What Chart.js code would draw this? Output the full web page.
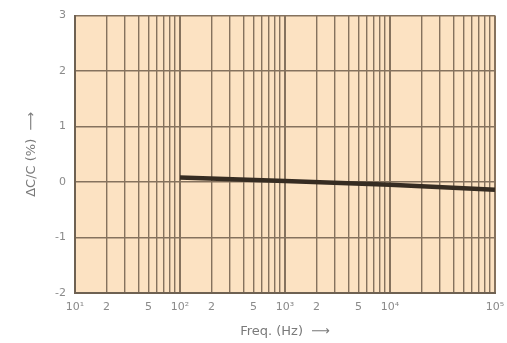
<!DOCTYPE html>
<html>
<head>
<meta charset="utf-8">
<script src="https://cdn.jsdelivr.net/npm/chart.js@4/dist/chart.umd.min.js"></script>
<style>
  html, body { margin: 0; padding: 0; background: #fff; }
  #wrap { width: 507px; height: 343px; }
</style>
</head>
<body>
<div id="wrap"><canvas id="chart"></canvas></div>
<script>
// measured curve
const freqs = [100, 1000, 10000, 100000];
const dcc = [0.08, 0.02, -0.05, -0.14];

// x grid: every 1..9 multiple from 10 to 1e5
const gridFreqs = [10, 20, 30, 40, 50, 60, 70, 80, 90,
  100, 200, 300, 400, 500, 600, 700, 800, 900,
  1000, 2000, 3000, 4000, 5000, 6000, 7000, 8000, 9000,
  10000, 20000, 30000, 40000, 50000, 60000, 70000, 80000, 90000, 100000];
const labelFreqs = [10, 20, 50, 100, 200, 500, 1000, 2000, 5000, 10000, 100000];
const labelTexts = ['10¹', '2', '5', '10²', '2', '5', '10³', '2', '5', '10⁴', '10⁵'];
const yTicks = [-2, -1, 0, 1, 2, 3];

const plotBg = {
  id: 'plotBg',
  beforeDraw(chart) {
    const a = chart.chartArea;
    const ctx = chart.ctx;
    ctx.save();
    ctx.fillStyle = '#fce2c2';
    ctx.fillRect(a.left, a.top, a.right - a.left, a.bottom - a.top);
    ctx.restore();
  }
};

function isDecade(v) {
  return Math.abs(Math.log10(v) - Math.round(Math.log10(v))) < 1e-9;
}

const ctx = document.getElementById('chart');
new Chart(ctx, {
  type: 'line',
  data: {
    datasets: [{
      data: freqs.map((f, i) => ({ x: f, y: dcc[i] })),
      borderColor: '#362c22',
      borderWidth: 4.5,
      pointRadius: 0,
      fill: false,
      tension: 0
    }]
  },
  options: {
    responsive: true,
    maintainAspectRatio: false,
    animation: false,
    layout: { padding: { top: 14, right: 12, left: 20, bottom: 0 } },
    plugins: { legend: { display: false }, tooltip: { enabled: false } },
    scales: {
      x: {
        type: 'logarithmic',
        min: 10,
        max: 100000,
        afterBuildTicks(scale) {
          scale.ticks = gridFreqs.map(v => ({ value: v }));
        },
        afterFit(scale) {
          scale.height = 50;
          scale.paddingLeft = 0;
          scale.paddingRight = 0;
        },
        ticks: {
          autoSkip: false,
          maxRotation: 0,
          padding: 8,
          color: '#8a8a8a',
          font: { family: 'DejaVu Sans', size: 11 },
          callback(v) {
            const i = labelFreqs.indexOf(v);
            return i >= 0 ? labelTexts[i] : '';
          }
        },
        grid: {
          color: '#85725e',
          lineWidth: c => (c.tick && isDecade(c.tick.value)) ? 2 : 1.4,
          drawTicks: false
        },
        border: { color: '#6e6152', width: 2 },
        title: {
          display: true,
          text: 'Freq. (Hz)  ⟶',
          color: '#7a7a7a',
          font: { family: 'DejaVu Sans', size: 13 },
          padding: { top: 2 }
        }
      },
      y: {
        min: -2,
        max: 3,
        afterBuildTicks(scale) {
          scale.ticks = yTicks.map(v => ({ value: v }));
        },
        afterFit(scale) { scale.width = 55; },
        ticks: {
          padding: 9,
          color: '#8a8a8a',
          font: { family: 'DejaVu Sans', size: 11 }
        },
        grid: { color: '#85725e', lineWidth: 1.4, drawTicks: false },
        border: { color: '#6e6152', width: 2 },
        title: {
          display: true,
          text: 'ΔC/C (%)  ⟶',
          color: '#7a7a7a',
          font: { family: 'DejaVu Sans', size: 13 },
          padding: { bottom: 8 }
        }
      }
    }
  },
  plugins: [plotBg]
});
</script>
</body>
</html>
